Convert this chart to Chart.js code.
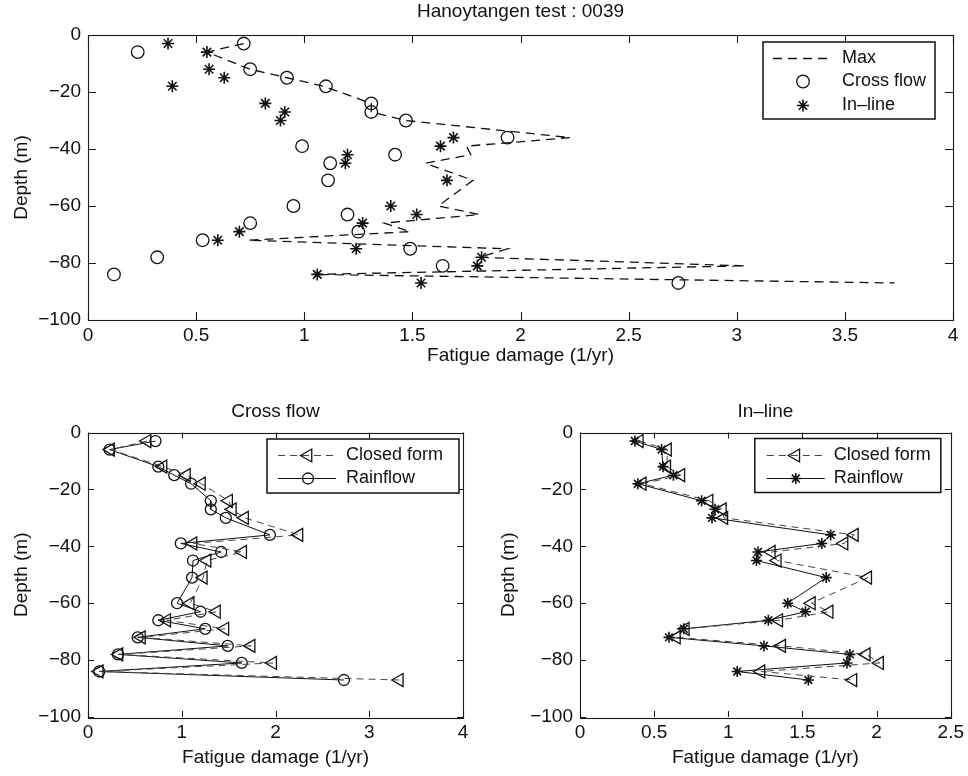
<!DOCTYPE html>
<html>
<head>
<meta charset="utf-8">
<title>Hanoytangen test : 0039</title>
<script src="https://cdn.jsdelivr.net/npm/chart.js@4.4.1/dist/chart.umd.min.js"></script>
<style>
  html, body { margin: 0; padding: 0; background: #fff; }
  #wrap { position: relative; width: 968px; height: 776px; }
  #wrap canvas { position: absolute; }
</style>
</head>
<body>
<div id="wrap">
  <canvas id="topChart" width="968" height="375" style="left:0;top:0"></canvas>
  <canvas id="crossChart" width="484" height="386" style="left:0;top:390px"></canvas>
  <canvas id="inlineChart" width="484" height="386" style="left:484px;top:390px"></canvas>
</div>
<script>
// Fatigue damage along the riser, Hanoytangen test 0039

// depth stations (m)
const depths = [-3, -6, -12, -15, -18, -24, -27, -30, -36, -39, -42, -45, -51,
                -60, -63, -66, -69, -72, -75, -78, -81, -84, -87];

// damage (1/yr) per station
const crossRainflow  = [0.72, 0.23, 0.75, 0.92, 1.10, 1.31, 1.31, 1.47, 1.94, 0.99, 1.42, 1.12, 1.11,
                        0.95, 1.20, 0.75, 1.25, 0.53, 1.49, 0.32, 1.64, 0.12, 2.73];
const crossClosed    = [0.63, 0.24, 0.80, 1.05, 1.21, 1.50, 1.54, 1.67, 2.25, 1.12, 1.65, 1.27, 1.23,
                        1.09, 1.37, 0.84, 1.46, 0.57, 1.74, 0.33, 1.97, 0.12, 3.32];
const inlineRainflow = [0.37, 0.55, 0.56, 0.63, 0.39, 0.82, 0.91, 0.89, 1.69, 1.63, 1.20, 1.19, 1.66,
                        1.40, 1.52, 1.27, 0.70, 0.60, 1.24, 1.82, 1.80, 1.06, 1.54];
const inlineClosed   = [0.40, 0.59, 0.585, 0.68, 0.42, 0.87, 0.96, 0.97, 1.85, 1.78, 1.29, 1.33, 1.94,
                        1.56, 1.68, 1.34, 0.71, 0.65, 1.36, 1.93, 2.02, 1.22, 1.84];
const maxDamage      = [0.72, 0.55, 0.75, 0.92, 1.09, 1.31, 1.31, 1.47, 2.23, 1.75, 1.77, 1.56, 1.78,
                        1.62, 1.81, 1.37, 1.49, 0.74, 1.94, 1.81, 3.04, 1.04, 3.73];

// tick values
const depthTicks  = [0, -20, -40, -60, -80, -100];
const topXTicks   = [0, 0.5, 1, 1.5, 2, 2.5, 3, 3.5, 4];
const crossXTicks = [0, 1, 2, 3, 4];
const inlineXTicks = [0, 0.5, 1, 1.5, 2, 2.5];

const INK = '#111';
const FONT_SIZE = 19;
Chart.defaults.font.family = '"Liberation Sans", Arial, Helvetica, sans-serif';
Chart.defaults.color = INK;

/**
 * Pair a damage series with the depth stations
 */
function toPoints(values) {
  return values.map((v, i) => ({ x: v, y: depths[i] }));
}

/**
 * MATLAB style axes: full box and inward ticks on all four sides
 */
const matlabAxes = {
  id: 'matlabAxes',
  afterDatasetsDraw(chart, args, opts) {
    const { ctx, chartArea: a, scales } = chart;
    const len = opts.tickLength || 7;
    ctx.save();
    ctx.strokeStyle = '#1a1a1a';
    ctx.lineWidth = 1.1;
    ctx.beginPath();
    scales.x.ticks.forEach(t => {
      const px = Math.round(scales.x.getPixelForValue(t.value)) + 0.5;
      ctx.moveTo(px, a.bottom); ctx.lineTo(px, a.bottom - len);
      ctx.moveTo(px, a.top); ctx.lineTo(px, a.top + len);
    });
    scales.y.ticks.forEach(t => {
      const py = Math.round(scales.y.getPixelForValue(t.value)) + 0.5;
      ctx.moveTo(a.left, py); ctx.lineTo(a.left + len, py);
      ctx.moveTo(a.right, py); ctx.lineTo(a.right - len, py);
    });
    ctx.stroke();
    ctx.strokeRect(Math.round(a.left) + 0.5, Math.round(a.top) + 0.5,
                   Math.round(a.right - a.left), Math.round(a.bottom - a.top));
    ctx.restore();
  }
};

/**
 * Boxed legend in the upper right corner of the plot area
 */
const boxLegend = {
  id: 'boxLegend',
  afterDraw(chart, args, opts) {
    if (!opts || !opts.width) return;
    const { ctx, chartArea: a } = chart;
    const right = a.right - opts.right;
    const left = right - opts.width;
    const top = a.top + opts.top;
    ctx.save();
    ctx.fillStyle = '#fff';
    ctx.fillRect(left, top, opts.width, opts.height);
    ctx.lineWidth = 1.5;
    ctx.strokeStyle = INK;
    ctx.strokeRect(left, top, opts.width, opts.height);

    chart.data.datasets.forEach((ds, i) => {
      const y = Math.round(top + opts.firstRow + i * opts.rowGap) + 0.5;
      if (ds.showLine) {
        ctx.save();
        ctx.setLineDash(ds.borderDash || []);
        ctx.lineWidth = ds.borderWidth;
        ctx.strokeStyle = ds.borderColor;
        ctx.beginPath();
        ctx.moveTo(left + opts.lineFrom, y);
        ctx.lineTo(left + opts.lineTo, y);
        ctx.stroke();
        ctx.restore();
      }
      if (ds.pointRadius > 0) {
        ctx.save();
        ctx.setLineDash([]);
        ctx.lineWidth = ds.pointBorderWidth;
        ctx.strokeStyle = ds.pointBorderColor;
        ctx.fillStyle = 'rgba(0,0,0,0)';
        Chart.helpers.drawPoint(ctx, {
          pointStyle: ds.pointStyle,
          radius: ds.pointRadius,
          rotation: ds.pointRotation || 0,
          borderWidth: ds.pointBorderWidth
        }, left + opts.marker, y);
        ctx.restore();
      }
      ctx.fillStyle = INK;
      ctx.font = opts.fontSize + 'px ' + Chart.defaults.font.family;
      ctx.textBaseline = 'middle';
      ctx.textAlign = 'left';
      ctx.fillText(ds.label, left + opts.textX, y);
    });
    ctx.restore();
  }
};

Chart.register(matlabAxes, boxLegend);

function minusSign(v) {
  return String(v).replace('-', '\u2212');
}

/**
 * Common options for the three panels.
 * The panel title sits on an empty top axis so it is centred over the plot box.
 */
function buildOptions(cfg) {
  const xMin = cfg.xTicks[0];
  const xMax = cfg.xTicks[cfg.xTicks.length - 1];
  return {
    responsive: false,
    animation: false,
    events: [],
    layout: { padding: { left: 0, right: cfg.padRight, top: 0, bottom: 0 } },
    plugins: {
      legend: { display: false },
      tooltip: { enabled: false },
      boxLegend: cfg.legend,
      matlabAxes: { tickLength: cfg.tickLength }
    },
    scales: {
      titleAxis: {
        type: 'linear',
        position: 'top',
        min: xMin,
        max: xMax,
        grid: { display: false, drawTicks: false },
        border: { display: false },
        ticks: { display: false },
        title: { display: true, text: cfg.title, color: INK, font: { size: FONT_SIZE }, padding: { top: cfg.titleTop, bottom: 0 } },
        afterFit: s => { s.height = cfg.topHeight; }
      },
      x: {
        type: 'linear',
        position: 'bottom',
        min: xMin,
        max: xMax,
        grid: { display: false, drawTicks: false },
        border: { display: false },
        afterBuildTicks: s => { s.ticks = cfg.xTicks.map(v => ({ value: v })); },
        ticks: { autoSkip: false, maxRotation: 0, padding: 4, font: { size: FONT_SIZE }, callback: minusSign },
        title: { display: true, text: 'Fatigue damage (1/yr)', font: { size: FONT_SIZE }, padding: { top: 0, bottom: cfg.xTitleBottom } },
        afterFit: s => { s.height = cfg.xHeight; }
      },
      y: {
        type: 'linear',
        min: -100,
        max: 0,
        grid: { display: false, drawTicks: false },
        border: { display: false },
        afterBuildTicks: s => { s.ticks = depthTicks.map(v => ({ value: v })); },
        ticks: { autoSkip: false, padding: 7, font: { size: FONT_SIZE }, callback: minusSign },
        title: { display: true, text: 'Depth (m)', font: { size: FONT_SIZE }, padding: { top: cfg.yTitleTop, bottom: 0 } },
        afterFit: s => { s.width = cfg.yWidth; }
      }
    }
  };
}

function lineSet(label, values) {
  return {
    label: label,
    data: toPoints(values),
    xAxisID: 'x',
    showLine: true,
    borderColor: INK,
    borderWidth: 1.3,
    borderDash: [9, 6],
    pointRadius: 0
  };
}

function markerSet(label, values, style, radius, withLine, dashed) {
  return {
    label: label,
    data: toPoints(values),
    xAxisID: 'x',
    showLine: withLine,
    borderColor: dashed ? '#444' : INK,
    borderWidth: 1,
    borderDash: dashed ? [7, 5] : [],
    pointStyle: style,
    pointRotation: style === 'triangle' ? -90 : 0,
    pointRadius: radius,
    pointBorderWidth: style === 'star' ? 1.6 : 1.3,
    pointBorderColor: INK,
    pointBackgroundColor: 'rgba(0,0,0,0)'
  };
}

// Top panel: max of the two directions with the rainflow points
new Chart(document.getElementById('topChart'), {
  type: 'scatter',
  data: {
    datasets: [
      lineSet('Max', maxDamage),
      markerSet('Cross flow', crossRainflow, 'circle', 6.3, false, false),
      markerSet('In\u2013line', inlineRainflow, 'star', 6, false, false)
    ]
  },
  options: buildOptions({
    title: 'Hanoytangen test : 0039',
    titleTop: 0.6,
    topHeight: 35,
    padRight: 15,
    yWidth: 88,
    xHeight: 55,
    xTicks: topXTicks,
    xTitleBottom: 7.6,
    yTitleTop: 10.6,
    tickLength: 8,
    legend: { right: 18, top: 7, width: 172, height: 77, firstRow: 15.5, rowGap: 23.5,
              lineFrom: 10, lineTo: 67, marker: 40, textX: 79, fontSize: 18 }
  })
});

// Bottom left: cross flow, closed form against rainflow counting
new Chart(document.getElementById('crossChart'), {
  type: 'scatter',
  data: {
    datasets: [
      markerSet('Closed form', crossClosed, 'triangle', 7.5, true, true),
      markerSet('Rainflow', crossRainflow, 'circle', 5.5, true, false)
    ]
  },
  options: buildOptions({
    title: 'Cross flow',
    titleTop: 10.6,
    topHeight: 42.5,
    padRight: 21,
    yWidth: 88,
    xHeight: 59,
    xTicks: crossXTicks,
    xTitleBottom: 6.6,
    yTitleTop: 10.6,
    tickLength: 6,
    legend: { right: 4, top: 6.5, width: 192, height: 54, firstRow: 16, rowGap: 23.3,
              lineFrom: 11, lineTo: 69, marker: 41, textX: 79, fontSize: 18 }
  })
});

// Bottom right: in-line, closed form against rainflow counting
new Chart(document.getElementById('inlineChart'), {
  type: 'scatter',
  data: {
    datasets: [
      markerSet('Closed form', inlineClosed, 'triangle', 7.5, true, true),
      markerSet('Rainflow', inlineRainflow, 'star', 5.5, true, false)
    ]
  },
  options: buildOptions({
    title: 'In\u2013line',
    titleTop: 10.6,
    topHeight: 42.5,
    padRight: 14,
    yWidth: 96,
    xHeight: 59,
    xTicks: inlineXTicks,
    xTitleBottom: 6.6,
    yTitleTop: 13.6,
    tickLength: 6,
    legend: { right: 10, top: 6, width: 186, height: 54, firstRow: 16.5, rowGap: 23.3,
              lineFrom: 12, lineTo: 70, marker: 41, textX: 79, fontSize: 18 }
  })
});
</script>
</body>
</html>
